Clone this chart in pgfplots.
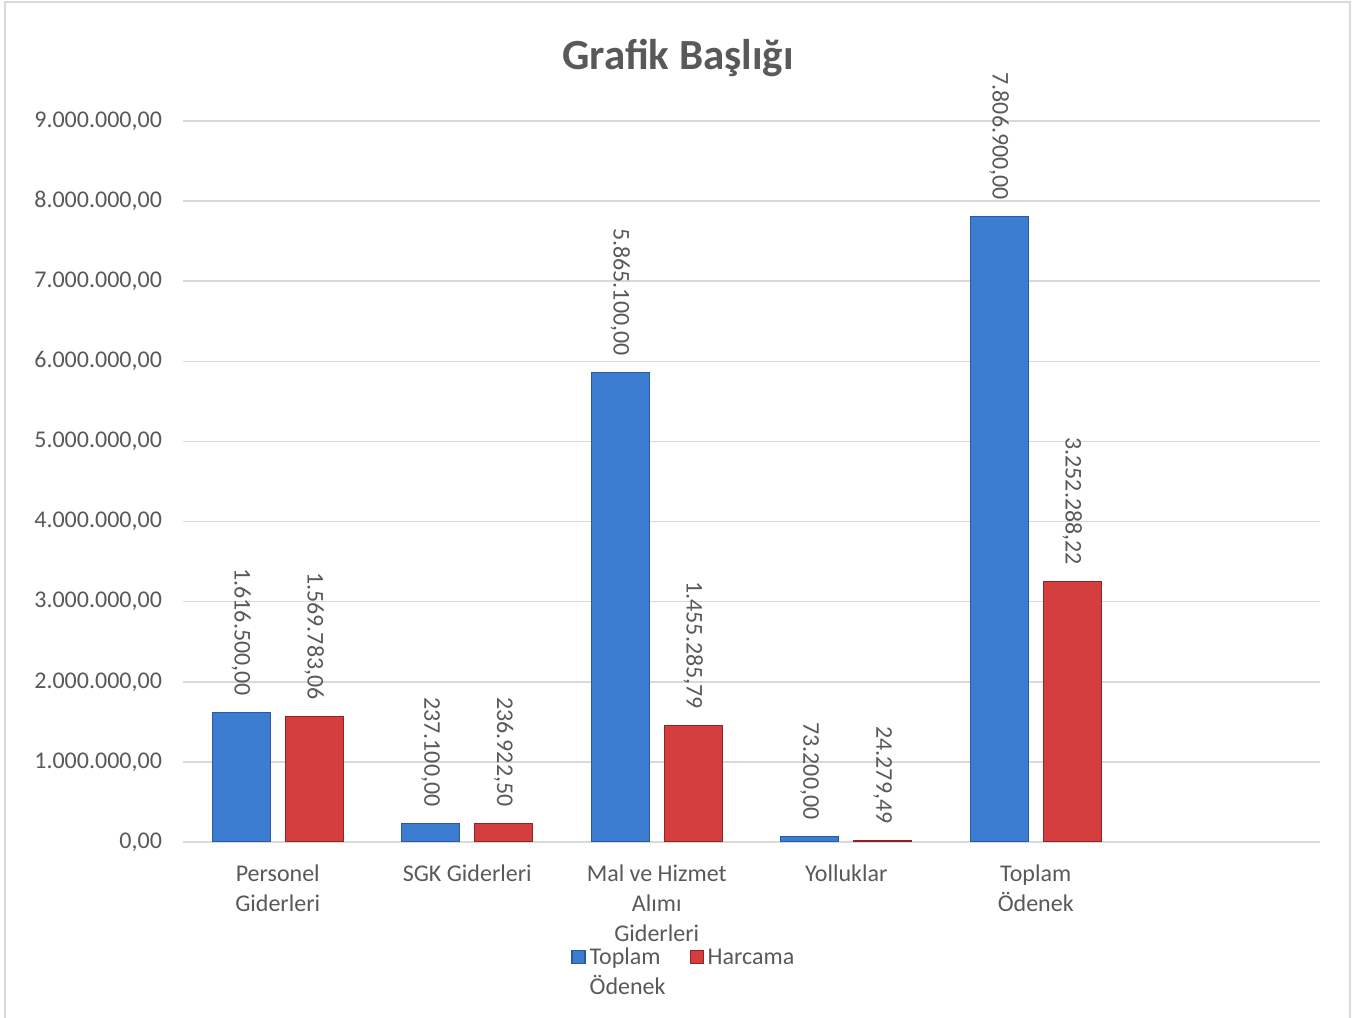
\documentclass[border=0pt]{standalone}
\usepackage{fontspec}
\setmainfont{Carlito}
\usepackage{pgfplots}
\usepackage{pgfplotstable}
\pgfplotsset{compat=1.18}

\definecolor{txtgray}{HTML}{595959}
\definecolor{gridgray}{HTML}{D9D9D9}
\definecolor{bluebase}{HTML}{3C7DD2}
\definecolor{bluedark}{HTML}{2A5A9E}
\definecolor{redbase}{HTML}{D43E3E}
\definecolor{reddark}{HTML}{8E2424}

% Toplam Odenek
\pgfplotstableread{
x y lbl
0 1616500 1.616.500,00
1 237100 237.100,00
2 5865100 5.865.100,00
3 73200 73.200,00
4 7806900 7.806.900,00
}\toplam

% Harcama
\pgfplotstableread{
x y lbl
0 1569783.06 1.569.783,06
1 236922.50 236.922,50
2 1455285.79 1.455.285,79
3 24279.49 24.279,49
4 3252288.22 3.252.288,22
}\harcama

\begin{document}
\begin{tikzpicture}[x=0.5pt,y=0.5pt]
\path[use as bounding box] (0,0) rectangle (1361,1018);
\draw[gridgray, line width=1pt] (5,-10) -- (5,1016) -- (1350,1016) -- (1350,-10);
\node[font=\bfseries\fontsize{21.5}{25}\selectfont, text=txtgray, anchor=base] at (678,948) {Grafik Başlığı};
\begin{axis}[
  at={(91.5pt,88pt)}, anchor=south west,
  scale only axis, width=568.5pt, height=360.5pt,
  clip=false,
  ybar=7.5pt, bar width=29pt,
  xmin=-0.5, xmax=5.5, ymin=0, ymax=9000000,
  xtick={0,...,4},
  xticklabels={{Personel\\Giderleri},{SGK Giderleri},{Mal ve Hizmet\\Alımı\\Giderleri},{Yolluklar},{Toplam\\Ödenek}},
  ytick={0,1000000,...,9000000},
  scaled y ticks=false,
  tick label style={font=\fontsize{12}{15}\selectfont, text=txtgray},
  xticklabel style={align=center, yshift=-8pt},
  yticklabel style={xshift=-7pt, /pgf/number format/.cd, fixed, fixed zerofill, precision=2, 1000 sep={.}, use comma, assume math mode=true},
  axis line style={draw=none},
  major tick length=0pt,
  ymajorgrids,
  grid style={gridgray, line width=0.75pt},
  point meta=explicit symbolic,
  nodes near coords={\pgfplotspointmeta},
  nodes near coords style={font=\fontsize{12}{15}\selectfont, text=txtgray, rotate=-90, anchor=east, inner xsep=8pt, inner ysep=0pt},
  legend image code/.code={\draw[#1, line width=0.6pt] (0pt,0.5pt) rectangle (6.5pt,7pt);},
  legend columns=2,
  legend cell align=left,
  legend style={at={(0.336,-0.129)}, anchor=north west, draw=none, fill=none,
    font=\fontsize{12}{15}\selectfont, nodes={anchor=base west, text=txtgray},
    /tikz/every even column/.append style={column sep=10pt}},
]
\addplot[fill=bluebase, draw=bluedark, line width=0.5pt] table[x=x, y=y, meta=lbl] {\toplam};
\addlegendentry{\begin{tabular}[t]{@{}l@{}}Toplam\\Ödenek\end{tabular}}
\addplot[fill=redbase, draw=reddark, line width=0.5pt] table[x=x, y=y, meta=lbl] {\harcama};
\addlegendentry{Harcama}
\end{axis}
\end{tikzpicture}
\end{document}
